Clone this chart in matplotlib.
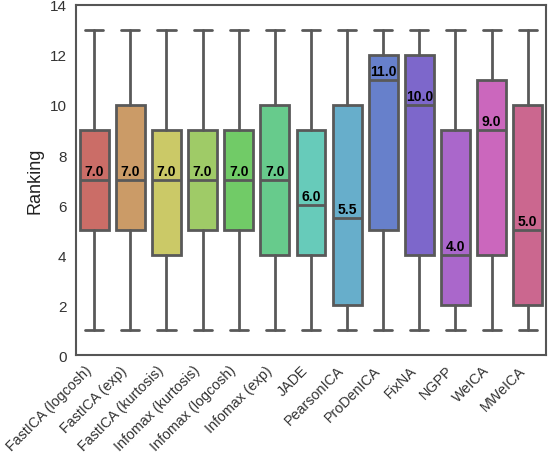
import numpy as np
import matplotlib
matplotlib.use("Agg")
import matplotlib.pyplot as plt
import seaborn as sns

methods = ["FastICA (logcosh)", "FastICA (exp)", "FastICA (kurtosis)",
           "Infomax (kurtosis)", "Infomax (logcosh)", "Infomax (exp)", "JADE",
           "PearsonICA", "ProDenICA", "FixNA", "NGPP", "WeICA", "MWeICA"]
whislo = [1, 1, 1, 1, 1, 1, 1, 1, 1, 1, 1, 1, 1]
q1 = [5, 5, 4, 5, 5, 4, 4, 2, 5, 4, 2, 4, 2]
med = [7, 7, 7, 7, 7, 7, 6, 5.5, 11, 10, 4, 9, 5]
q3 = [9, 10, 9, 9, 9, 10, 9, 10, 12, 12, 9, 11, 10]
whishi = [13, 13, 13, 13, 13, 13, 13, 13, 13, 13, 13, 13, 13]

sns.set_style("white")
plt.rcParams["font.family"] = ["Liberation Sans", "DejaVu Sans"]

fig = plt.figure(figsize=(5.48, 4.56), dpi=100)
ax = fig.add_axes([0.139, 0.219, 0.857, 0.768])

stats = []
for i, m in enumerate(methods):
    stats.append(dict(label=m, whislo=whislo[i], q1=q1[i], med=med[i],
                      q3=q3[i], whishi=whishi[i], fliers=[]))

colors = sns.color_palette("hls", len(methods), desat=0.75)
lc = "#595959"
bp = ax.bxp(stats, positions=np.arange(len(methods)), widths=0.8,
            patch_artist=True, showfliers=False,
            boxprops=dict(edgecolor=lc, linewidth=2),
            whiskerprops=dict(color=lc, linewidth=2),
            capprops=dict(color=lc, linewidth=2),
            medianprops=dict(color=lc, linewidth=2))
for patch, c in zip(bp["boxes"], colors):
    patch.set_facecolor(c)
for cap in bp["caps"]:
    x0, x1 = cap.get_xdata()
    xc = (x0 + x1) / 2
    cap.set_xdata([xc - 0.25, xc + 0.25])

# median value on top of each median line
for i, m in enumerate(med):
    ax.text(i, m + 0.08, f"{m:.1f}", ha="center", va="bottom",
            fontsize=10, fontweight="bold", color="black")

ax.set_xlim(-0.5, len(methods) - 0.5)
ax.set_ylim(0, 14)
ax.set_yticks(range(0, 15, 2))
ax.set_xticks(np.arange(len(methods)))
ax.set_xticklabels(methods, rotation=45, ha="right",
                   fontsize=10.3, color="#333333")
ax.tick_params(axis="y", labelsize=11, labelcolor="#333333")
ax.tick_params(axis="x", pad=2)
ax.set_ylabel("Ranking", fontsize=13, color="#222222")
for s in ax.spines.values():
    s.set_color("#555555")
    s.set_linewidth(1.5)

fig.savefig("out.png", dpi=100)
